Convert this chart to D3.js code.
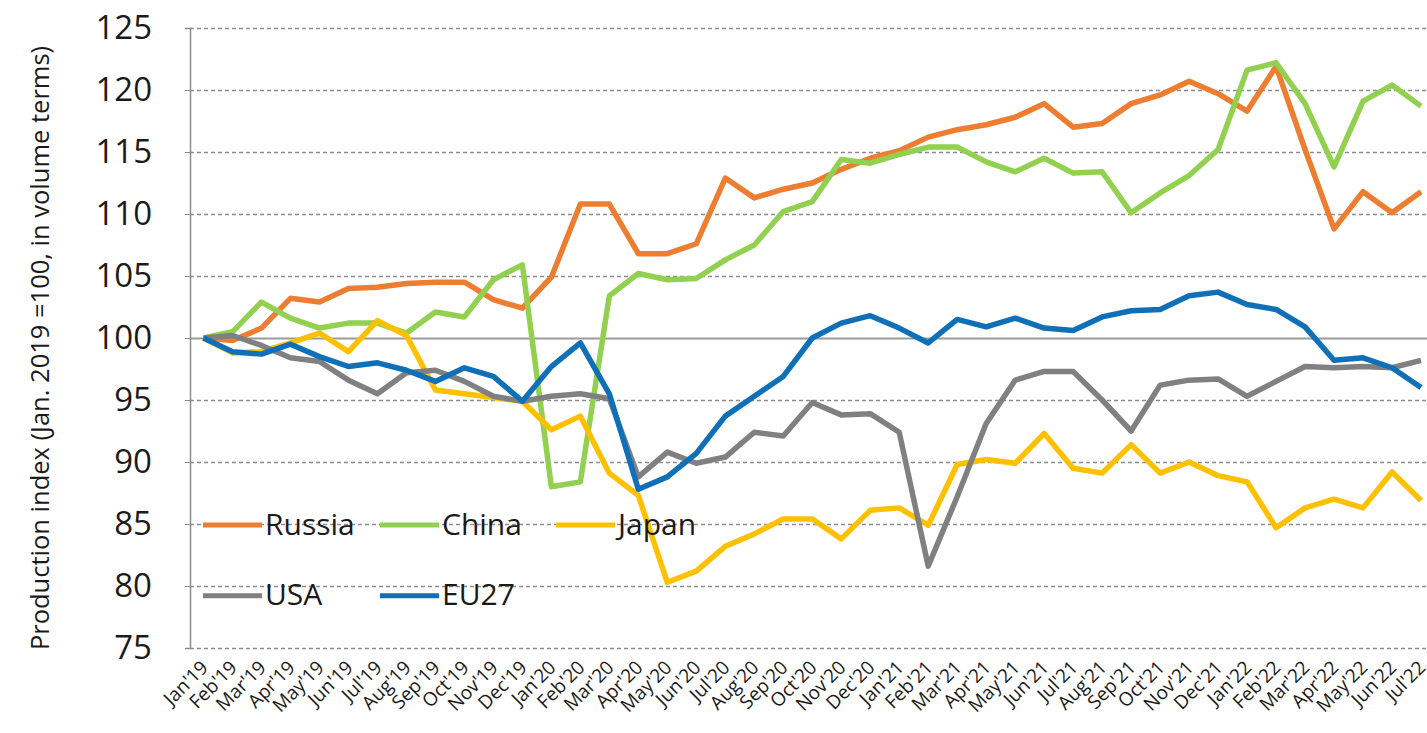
<!DOCTYPE html>
<html>
<head>
<meta charset="utf-8">
<script src="https://cdn.jsdelivr.net/npm/d3@7"></script>
<style>
  html, body { margin: 0; padding: 0; background: #fff; }
  svg { display: block; font-family: 'Open Sans', sans-serif; }
</style>
</head>
<body>
<div class="chart"></div>
<script>
'use strict';

var months = ["Jan'19","Feb'19","Mar'19","Apr'19","May'19","Jun'19","Jul'19","Aug'19","Sep'19","Oct'19","Nov'19","Dec'19",
  "Jan'20","Feb'20","Mar'20","Apr'20","May'20","Jun'20","Jul'20","Aug'20","Sep'20","Oct'20","Nov'20","Dec'20",
  "Jan'21","Feb'21","Mar'21","Apr'21","May'21","Jun'21","Jul'21","Aug'21","Sep'21","Oct'21","Nov'21","Dec'21",
  "Jan'22","Feb'22","Mar'22","Apr'22","May'22","Jun'22","Jul'22"];

var russia = [100, 99.8, 100.8, 103.2, 102.9, 104.0, 104.1, 104.4, 104.5, 104.5, 103.1, 102.4,
  104.9, 110.8, 110.8, 106.8, 106.8, 107.6, 112.9, 111.3, 112.0, 112.5, 113.6, 114.5,
  115.1, 116.2, 116.8, 117.2, 117.8, 118.9, 117.0, 117.3, 118.9, 119.6, 120.7, 119.7,
  118.3, 121.9, 115.2, 108.8, 111.8, 110.1, 111.8];

var china = [100, 100.5, 102.9, 101.6, 100.8, 101.2, 101.2, 100.4, 102.1, 101.7, 104.7, 105.9,
  88.0, 88.4, 103.4, 105.2, 104.7, 104.8, 106.3, 107.5, 110.2, 111.0, 114.4, 114.1,
  114.8, 115.4, 115.4, 114.2, 113.4, 114.5, 113.3, 113.4, 110.1, 111.7, 113.1, 115.2,
  121.6, 122.2, 118.9, 113.8, 119.1, 120.4, 118.7];

var japan = [100, 98.8, 98.9, 99.6, 100.4, 98.9, 101.4, 100.2, 95.8, 95.5, 95.2, 94.9,
  92.6, 93.7, 89.1, 87.3, 80.3, 81.2, 83.2, 84.2, 85.4, 85.4, 83.8, 86.1,
  86.3, 84.9, 89.8, 90.2, 89.9, 92.3, 89.5, 89.1, 91.4, 89.1, 90.0, 88.9,
  88.4, 84.7, 86.3, 87.0, 86.3, 89.2, 86.9];

var usa = [100, 100.2, 99.4, 98.4, 98.1, 96.6, 95.5, 97.2, 97.4, 96.5, 95.3, 94.9,
  95.3, 95.5, 95.1, 88.8, 90.8, 89.9, 90.4, 92.4, 92.1, 94.8, 93.8, 93.9,
  92.4, 81.6, 87.2, 93.1, 96.6, 97.3, 97.3, 95.0, 92.5, 96.2, 96.6, 96.7,
  95.3, 96.5, 97.7, 97.6, 97.7, 97.6, 98.2];

var eu27 = [100, 98.9, 98.7, 99.5, 98.5, 97.7, 98.0, 97.4, 96.5, 97.6, 96.9, 94.9,
  97.7, 99.6, 95.5, 87.8, 88.8, 90.7, 93.7, 95.3, 96.9, 100.0, 101.2, 101.8,
  100.8, 99.6, 101.5, 100.9, 101.6, 100.8, 100.6, 101.7, 102.2, 102.3, 103.4, 103.7,
  102.7, 102.3, 100.9, 98.2, 98.4, 97.6, 96.0];

var yTicks = [75, 80, 85, 90, 95, 100, 105, 110, 115, 120, 125];
var yTitle = 'Production index (Jan. 2019 =100, in volume terms)';

var series = [
  {name: 'Russia', values: russia, color: '#ED7D31'},
  {name: 'China',  values: china,  color: '#92D050'},
  {name: 'Japan',  values: japan,  color: '#FFC000'},
  {name: 'USA',    values: usa,    color: '#808080'},
  {name: 'EU27',   values: eu27,   color: '#0F6FB7'}
];

var display = {x: 1427, y: 733};
var margin = {top: 28, right: 0, bottom: 85, left: 190};
var width = display.x - margin.left - margin.right,
    height = display.y - margin.top - margin.bottom;

var svg = d3.select('.chart').append('svg')
    .attr('width', display.x)
    .attr('height', display.y);

var g = svg.append('g')
    .attr('transform', 'translate(' + margin.left + ',' + margin.top + ')');

// first month sits half a slot right of the axis, last one near the right edge
var x = d3.scalePoint()
    .domain(months)
    .range([13.5, width - 6]);

var y = d3.scaleLinear()
    .domain([75, 125])
    .range([height, 0]);

// gridlines
g.append('g')
    .attr('class', 'grid')
    .call(d3.axisLeft(y).tickValues(yTicks).tickSize(-width).tickFormat(''))
    .call(function(sel) {
      sel.select('.domain').remove();
      sel.selectAll('line')
          .attr('stroke', function(d) { return d === 100 ? '#9a9a9a' : '#8c8c8c'; })
          .attr('stroke-width', function(d) { return d === 100 ? 2 : 1.3; })
          .attr('stroke-dasharray', function(d) { return d === 100 ? null : '4,3'; });
    });

// y axis
g.append('g')
    .attr('class', 'y-axis')
    .call(d3.axisLeft(y).tickValues(yTicks).tickSize(5).tickPadding(33))
    .call(function(sel) {
      sel.select('.domain').attr('stroke', '#8c8c8c').attr('stroke-width', 1.5);
      sel.selectAll('line').attr('stroke', '#8c8c8c');
      sel.selectAll('text')
          .style('font-family', "'Open Sans', sans-serif")
          .style('font-size', '33px')
          .attr('fill', '#1a1a1a');
    });

// x labels, rotated
g.append('g')
    .attr('class', 'x-labels')
  .selectAll('text')
    .data(months)
  .enter().append('text')
    .attr('transform', function(d) {
      return 'translate(' + (x(d) + 1) + ',' + (height + 16) + ') rotate(-45)';
    })
    .attr('text-anchor', 'end')
    .attr('dy', '0.35em')
    .style('font-size', '19px')
    .attr('fill', '#1a1a1a')
    .text(function(d) { return d; });

// y title
svg.append('text')
    .attr('transform', 'translate(40,' + (margin.top + y(100) + 10) + ') rotate(-90)')
    .attr('text-anchor', 'middle')
    .attr('dy', '0.35em')
    .style('font-size', '25.5px')
    .attr('fill', '#1a1a1a')
    .text(yTitle);

// lines
var line = d3.line()
    .x(function(d, i) { return x(months[i]); })
    .y(function(d) { return y(d); });

g.selectAll('.series')
    .data(series)
  .enter().append('path')
    .attr('class', 'series')
    .attr('fill', 'none')
    .attr('stroke', function(d) { return d.color; })
    .attr('stroke-width', 5.5)
    .attr('stroke-linejoin', 'round')
    .attr('d', function(d) { return line(d.values); });

// legend (two rows, inside plot)
var legendPos = [
  {x: 13, row: 85}, {x: 190, row: 85}, {x: 366, row: 85},
  {x: 13, row: 79.3}, {x: 190, row: 79.3}
];

var legend = g.selectAll('.legend')
    .data(series)
  .enter().append('g')
    .attr('class', 'legend')
    .attr('transform', function(d, i) {
      return 'translate(' + legendPos[i].x + ',' + y(legendPos[i].row) + ')';
    });

legend.append('line')
    .attr('x1', 0).attr('x2', 59)
    .attr('y1', 1).attr('y2', 1)
    .attr('stroke', function(d) { return d.color; })
    .attr('stroke-width', 5);

legend.append('text')
    .attr('x', 62)
    .attr('dy', '0.35em')
    .style('font-size', '30px')
    .attr('fill', '#1a1a1a')
    .text(function(d) { return d.name; });
</script>
</body>
</html>
